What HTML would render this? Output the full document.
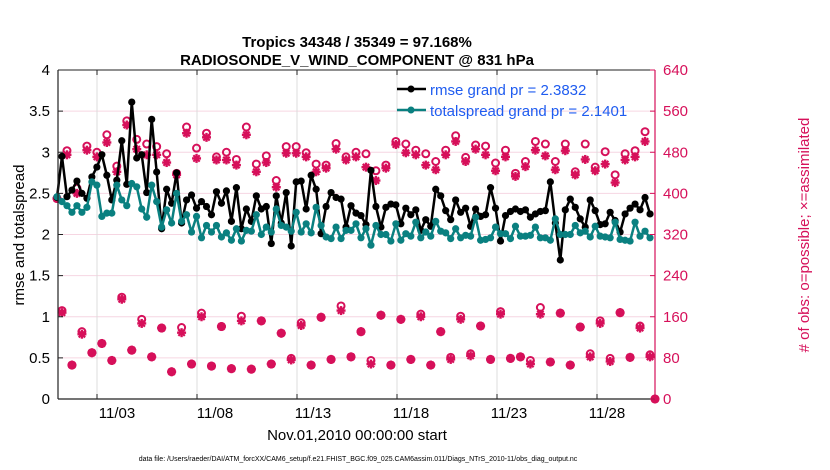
<!DOCTYPE html>
<html><head><meta charset="utf-8"><style>
html,body{margin:0;padding:0;background:#fff;}
svg{display:block;font-family:"Liberation Sans",sans-serif;}
</style></head><body>
<svg id="chart" width="830" height="470" viewBox="0 0 830 470" xmlns="http://www.w3.org/2000/svg">
<rect x="0" y="0" width="830" height="470" fill="#fff"/>
<text x="357" y="47" text-anchor="middle" font-size="15" font-weight="bold">Tropics 34348 / 35349 = 97.168%</text>
<text x="357" y="65" text-anchor="middle" font-size="15" font-weight="bold">RADIOSONDE_V_WIND_COMPONENT @ 831 hPa</text>
<g id="grid"></g>
<g id="series"></g>
<g id="axes"></g>
<text transform="translate(24,235) rotate(-90)" text-anchor="middle" font-size="15">rmse and totalspread</text>
<text transform="translate(809,235) rotate(-90)" text-anchor="middle" font-size="15" fill="#d6105a"># of obs: o=possible; ×=assimilated</text>
<text x="357" y="440" text-anchor="middle" font-size="15">Nov.01,2010 00:00:00 start</text>
<text x="358" y="461" text-anchor="middle" font-size="7">data file: /Users/raeder/DAI/ATM_forcXX/CAM6_setup/f.e21.FHIST_BGC.f09_025.CAM6assim.011/Diags_NTrS_2010-11/obs_diag_output.nc</text>
<g id="legend">
<line x1="397" y1="89" x2="426" y2="89" stroke="#000" stroke-width="2.5"/>
<circle cx="411" cy="89" r="3.5" fill="#000"/>
<text x="430" y="95" font-size="15" fill="#1f5cf0">rmse grand pr = 2.3832</text>
<line x1="397" y1="110" x2="426" y2="110" stroke="#0a8080" stroke-width="2.5"/>
<circle cx="411" cy="110" r="3.5" fill="#0a8080"/>
<text x="430" y="116" font-size="15" fill="#1f5cf0">totalspread grand pr = 2.1401</text>
</g>
</svg>
<script>
const rmse=[2.45,2.95,2.46,2.54,2.65,2.50,2.44,2.70,2.82,2.97,2.72,2.42,2.66,3.14,2.61,3.61,2.93,2.97,2.51,3.40,2.76,2.07,2.55,2.38,2.75,2.14,2.42,2.48,2.32,2.40,2.34,2.24,
2.52,2.38,2.53,2.16,2.57,2.07,2.31,2.16,2.47,2.31,2.34,1.89,2.47,2.14,2.51,1.86,2.64,2.65,2.31,2.72,2.55,2.01,2.34,2.51,2.45,2.43,2.09,2.35,2.26,2.23,2.12,
2.78,2.34,2.09,2.33,2.37,2.36,2.13,2.32,2.24,2.30,2.05,2.18,2.10,2.55,2.47,2.29,2.18,2.42,2.27,2.32,2.10,2.31,2.22,2.24,2.57,2.32,1.92,2.23,
2.28,2.31,2.28,2.30,2.21,2.25,2.28,2.29,2.64,2.14,1.69,2.30,2.43,2.33,2.19,2.09,2.42,2.29,2.12,2.13,2.27,2.17,2.03,2.25,2.32,2.37,2.30,2.45,2.25];
const spread=[2.46,2.40,2.35,2.27,2.35,2.27,2.33,2.64,2.60,2.22,2.26,2.26,2.60,2.42,2.35,2.62,2.58,2.31,2.21,2.60,2.40,2.09,2.30,2.14,2.50,2.16,2.24,2.03,2.22,1.96,2.11,2.03,
2.11,1.97,2.02,1.93,2.07,1.92,2.05,2.04,2.24,2.00,2.09,2.03,2.31,2.11,2.09,2.04,2.27,2.03,2.13,2.02,2.33,2.11,1.97,1.95,2.09,1.95,2.05,2.05,2.13,1.96,2.07,
1.87,2.11,2.00,2.00,1.92,2.13,1.93,2.01,1.98,2.15,1.96,2.03,1.98,2.16,2.04,2.02,1.95,2.07,1.96,1.99,1.98,2.21,1.93,1.94,1.96,2.09,2.01,2.01,
1.95,2.10,1.98,1.98,1.99,2.09,1.96,1.96,1.93,2.19,2.00,2.00,2.00,2.11,2.02,2.04,1.97,2.10,1.98,1.97,1.96,2.15,1.94,1.93,1.92,2.15,1.98,2.04,1.96];
// obs at 00/12Z (upper group) and 06/18Z (lower group)
const possUpper=[390,483,410,492,480,514,453,541,505,496,491,477,439,529,488,517,471,480,466,529,457,473,425,491,491,479,457,455,497,471,480,
477,444,455,501,496,484,477,462,484,512,470,494,492,459,484,439,462,501,496,462,496,442,496,451,481,436,477,483,520];
const assimUpper=[390,475,400,484,471,499,442,533,486,475,475,460,436,517,468,509,465,465,455,514,442,460,412,478,478,471,442,449,486,465,471,
451,425,449,495,479,475,455,446,475,501,462,486,475,444,471,433,452,484,473,446,483,436,466,444,457,421,465,471,501];
const possLower=[172,66,131,90,108,75,198,95,155,82,138,53,139,68,167,64,141,59,161,58,152,68,128,79,148,66,159,77,181,82,
131,75,163,66,155,77,165,66,131,81,161,88,142,77,170,79,82,75,178,72,167,66,140,88,152,79,168,81,142,86];
const assimLower=[168,66,126,90,108,75,194,95,147,82,138,53,129,68,160,64,141,59,152,58,152,68,128,76,143,66,159,77,172,82,
131,68,163,66,155,77,160,66,131,77,155,84,142,77,165,79,82,68,165,72,167,66,140,82,147,73,168,81,138,82];
const xTickLabels=["11/03","11/08","11/13","11/18","11/23","11/28"];
const yLeftTicks=[0,0.5,1,1.5,2,2.5,3,3.5,4];
const yRightTicks=[0,80,160,240,320,400,480,560,640];

const NS="http://www.w3.org/2000/svg";
const L=58,R=655,T=70,B=399;
function xS(i){return 57+i*(655-57)/120;}
function yL(v){return B-(v/4)*(B-T);}
function yR(v){return B-(v/640)*(B-T);}
function mk(tag,attrs,parent){const e=document.createElementNS(NS,tag);for(const k in attrs)e.setAttribute(k,attrs[k]);parent.appendChild(e);return e;}
const grid=document.getElementById('grid'),series=document.getElementById('series'),axes=document.getElementById('axes');

yRightTicks.forEach((v,k)=>{if(v>0&&v<640){const g=mk('line',{x1:L,x2:R,y1:yR(v),y2:yR(v),stroke:'#f6d6e2','stroke-width':1},grid);

}});
xTickLabels.forEach((t,k)=>{const gx=97+k*100;const g=mk('line',{x1:gx,x2:gx,y1:T,y2:B,stroke:'#dcdcdc','stroke-width':1},grid);


mk('line',{x1:gx,x2:gx,y1:B,y2:B-5,stroke:'#222'},axes);
mk('line',{x1:gx,x2:gx,y1:T,y2:T+5,stroke:'#222'},axes);
const lb=mk('text',{x:117+k*98,y:418,'text-anchor':'middle','font-size':15},axes);lb.textContent=t;

});

function star(x,y,p){const s=4.5;
mk('line',{x1:x-s,x2:x+s,y1:y,y2:y,stroke:'#d6105a','stroke-width':2.4},p);
mk('line',{x1:x,x2:x,y1:y-s,y2:y+s,stroke:'#d6105a','stroke-width':2.4},p);
mk('line',{x1:x-3.2,x2:x+3.2,y1:y-3.2,y2:y+3.2,stroke:'#d6105a','stroke-width':2.2},p);
mk('line',{x1:x-3.2,x2:x+3.2,y1:y+3.2,y2:y-3.2,stroke:'#d6105a','stroke-width':2.2},p);}
function obsAt(i,pv,av){const g=mk('g',{},series);


const x=xS(i);mk('circle',{cx:x,cy:yR(pv),r:3.5,fill:'none',stroke:'#d6105a','stroke-width':2},g);star(x,yR(av),g);}
possUpper.forEach((v,k)=>obsAt(2*k,v,assimUpper[k]));
possLower.forEach((v,k)=>obsAt(2*k+1,v,assimLower[k]));
obsAt(120,0,0);

function line(arr,col,name){let d='';arr.forEach((v,i)=>{d+=(i?'L':'M')+xS(i).toFixed(2)+','+yL(v).toFixed(2);});
const p=mk('path',{d:d,fill:'none',stroke:col,'stroke-width':2.5,'stroke-linejoin':'round'},series);


arr.forEach((v,i)=>{const c=mk('circle',{cx:xS(i),cy:yL(v),r:3.6,fill:col},series);

});}
line(rmse,'#000','rmse');
line(spread,'#0a8080','totalspread');

mk('line',{x1:L,x2:L,y1:T,y2:B,stroke:'#222','stroke-width':1.2},axes);
mk('line',{x1:L,x2:R,y1:B,y2:B,stroke:'#222','stroke-width':1.2},axes);
mk('line',{x1:L,x2:R,y1:T,y2:T,stroke:'#222','stroke-width':1},axes);
mk('line',{x1:R,x2:R,y1:T,y2:B,stroke:'#d6105a','stroke-width':1.2},axes);
yLeftTicks.forEach(v=>{mk('line',{x1:L,x2:L+5,y1:yL(v),y2:yL(v),stroke:'#222'},axes);
const t=mk('text',{x:L-8,y:yL(v)+5,'text-anchor':'end','font-size':15},axes);t.textContent=String(v);

});
yRightTicks.forEach(v=>{mk('line',{x1:R-5,x2:R,y1:yR(v),y2:yR(v),stroke:'#d6105a'},axes);
const t=mk('text',{x:R+8,y:yR(v)+5,'font-size':15,fill:'#d6105a'},axes);t.textContent=String(v);

});
</script>
</body></html>
